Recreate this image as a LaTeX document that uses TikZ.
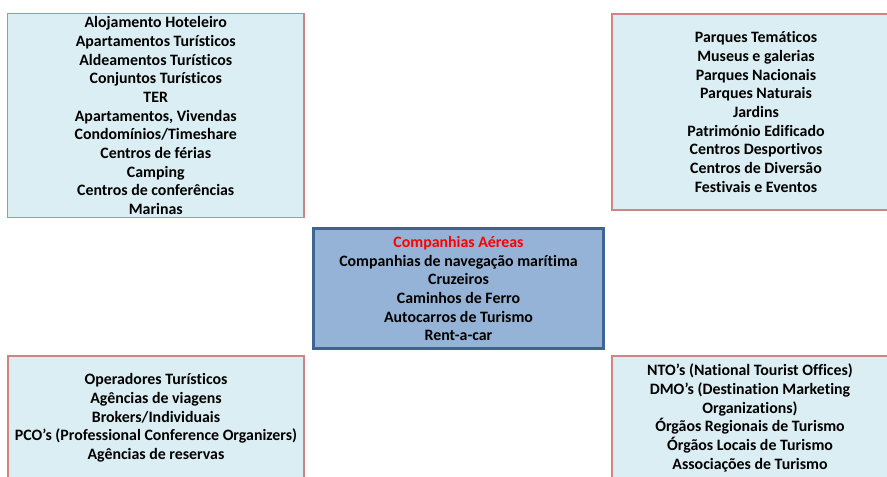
\documentclass[tikz,border=0pt]{standalone}
\usepackage{fontspec}
\setmainfont{Carlito}[Ligatures=NoCommon]
\definecolor{boxfill}{HTML}{DAEEF3}
\definecolor{boxedge}{HTML}{D08584}
\definecolor{midfill}{HTML}{95B3D7}
\definecolor{midedge}{HTML}{3F6493}
\begin{document}
\begin{tikzpicture}[x=0.75pt,y=-0.75pt,
  lightbox/.style={draw=boxedge, line width=0.9pt, fill=boxfill, inner sep=0pt,
    align=center, font=\fontsize{11.9}{14}\selectfont\bfseries},
  midbox/.style={draw=midedge, line width=2pt, fill=midfill, inner sep=0pt,
    align=center, font=\fontsize{11.9}{14}\selectfont\bfseries}]
\useasboundingbox (0,0) rectangle (887,476);
\clip (0,0) rectangle (887,476);
\fill[white] (0,0) rectangle (887,476);
\node[lightbox, minimum width=222.4pt, minimum height=152.6pt] (acc) at (155.75,115.5)
  {Alojamento Hoteleiro\\Apartamentos Turísticos\\Aldeamentos Turísticos\\Conjuntos Turísticos\\TER\\Apartamentos, Vivendas\\Condomínios/Timeshare\\Centros de férias\\Camping\\Centros de conferências\\Marinas};
\node[lightbox, minimum width=216pt, minimum height=147pt] (att) at (756,112)
  {Parques Temáticos\\Museus e galerias\\Parques Nacionais\\Parques Naturais\\Jardins\\Património Edificado\\Centros Desportivos\\Centros de Diversão\\Festivais e Eventos};
\node[midbox, minimum width=217.8pt, minimum height=90.3pt] (trn) at (458.5,288.5)
  {\textcolor{red}{Companhias Aéreas}\\Companhias de navegação marítima\\Cruzeiros\\Caminhos de Ferro\\Autocarros de Turismo\\Rent-a-car};
\node[lightbox, minimum width=222pt, minimum height=93pt] (dst) at (156,418)
  {Operadores Turísticos\\Agências de viagens\\Brokers/Individuais\\PCO’s (Professional Conference Organizers)\\Agências de reservas};
\node[lightbox, minimum width=207pt, minimum height=93pt] (org) at (750,418)
  {NTO’s (National Tourist Offices)\\DMO’s (Destination Marketing\\Organizations)\\Órgãos Regionais de Turismo\\Órgãos Locais de Turismo\\Associações de Turismo};
\end{tikzpicture}
\end{document}
